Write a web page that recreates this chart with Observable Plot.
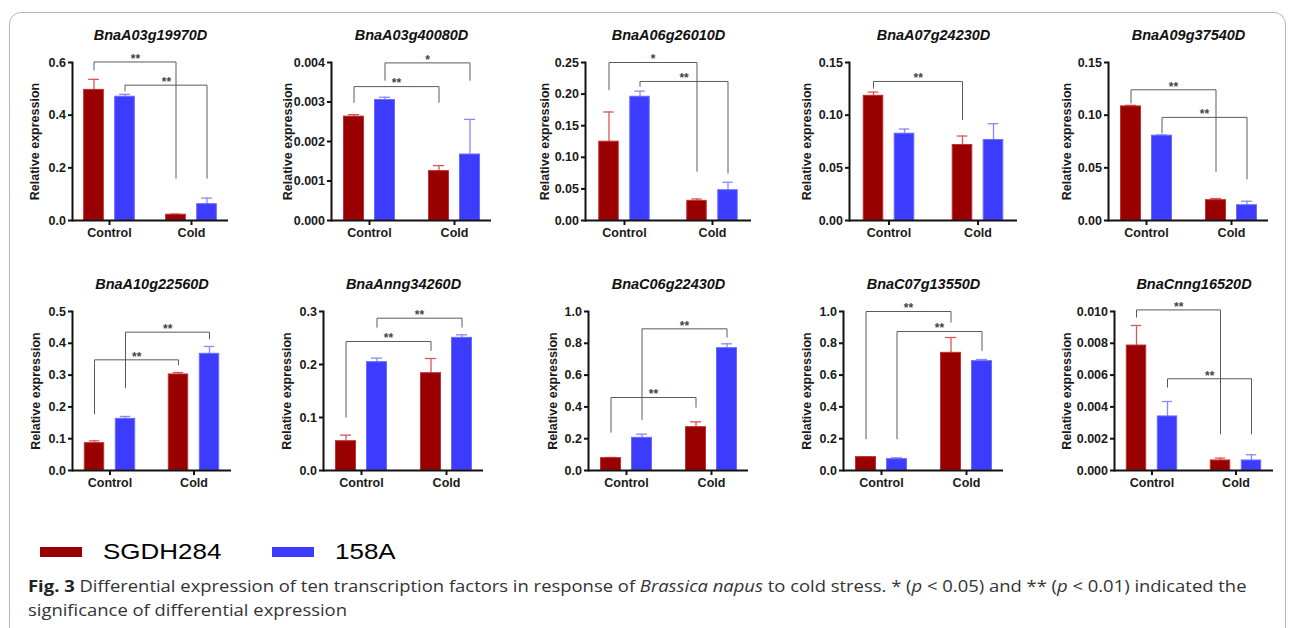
<!DOCTYPE html>
<html>
<head>
<meta charset="utf-8">
<script src="https://cdn.jsdelivr.net/npm/d3@7"></script>
<script src="https://cdn.jsdelivr.net/npm/@observablehq/plot@0.6"></script>
<style>
  html, body { margin: 0; padding: 0; background: #fff; }
  body { width: 1290px; height: 628px; overflow: hidden; position: relative; font-family: "Liberation Sans", Arial, sans-serif; }
  #border { position: absolute; left: 9px; top: 12px; width: 1277px; height: 700px; border: 1px solid #b5b5b5; border-radius: 12px; box-sizing: border-box; }
  .panel { position: absolute; }
  .panel svg { overflow: visible; }
  .legend { position: absolute; top: 540px; height: 24px; display: flex; align-items: center; }
  .swatch { width: 42px; height: 10px; }
  .legend span { font-size: 22px; color: #000; margin-left: 21px; font-family: "Liberation Sans", Arial, sans-serif; display: inline-block; transform: scaleX(1.18); transform-origin: left center; }
  #caption { position: absolute; left: 28px; top: 574px; width: 1130px; font-family: "Open Sans", sans-serif; font-size: 16.6px; line-height: 24px; color: #333; white-space: nowrap; transform: scaleX(1.11); transform-origin: left top; }
  #caption b { font-weight: 700; color: #222; }
</style>
</head>
<body>
<div id="border"></div>
<div id="panels"></div>
<div class="legend" style="left:40px"><div class="swatch" style="background:#990000"></div><span>SGDH284</span></div>
<div class="legend" style="left:272px"><div class="swatch" style="background:#3c3cff"></div><span>158A</span></div>
<div id="caption"><b>Fig. 3</b> Differential expression of ten transcription factors in response of <i>Brassica napus</i> to cold stress. * (<i>p</i> &lt; 0.05) and ** (<i>p</i> &lt; 0.01) indicated the<br>significance of differential expression</div>
<script>
// ---------- DATA ----------
const genes = ["BnaA03g19970D", "BnaA03g40080D", "BnaA06g26010D", "BnaA07g24230D", "BnaA09g37540D",
               "BnaA10g22560D", "BnaAnng34260D", "BnaC06g22430D", "BnaC07g13550D", "BnaCnng16520D"];
const groups = ["Control", "Cold"];
const cultivars = ["SGDH284", "158A"];

// mean relative expression per gene: [Control, Cold]
const sgdh284Mean = [[0.496, 0.022], [0.00263, 0.00125], [0.1247, 0.0311], [0.1184, 0.0717], [0.1083, 0.0193],
                     [0.086, 0.302], [0.0553, 0.1836], [0.0776, 0.2725], [0.0839, 0.740], [0.00786, 0.00063]];
const sgdh284Err  = [[0.040, 0.002], [0.00005, 0.00014], [0.047, 0.003], [0.0035, 0.0085], [0.001, 0.0015],
                     [0.0073, 0.006], [0.0114, 0.0277], [0.0044, 0.0335], [0.002, 0.0965], [0.00126, 0.00015]];
const a158Mean    = [[0.470, 0.062], [0.00305, 0.00167], [0.1958, 0.0479], [0.0824, 0.0764], [0.0805, 0.0145],
                     [0.1625, 0.367], [0.2044, 0.2503], [0.2055, 0.7694], [0.0713, 0.6876], [0.0034, 0.00063]];
const a158Err     = [[0.009, 0.023], [0.00007, 0.00089], [0.0089, 0.0126], [0.0044, 0.0155], [0.0007, 0.0038],
                     [0.0075, 0.023], [0.0076, 0.0057], [0.023, 0.0272], [0.0084, 0.0104], [0.00094, 0.00036]];

// y-axis tick values and decimals
const yTicks = [[0, 0.2, 0.4, 0.6], [0, 0.001, 0.002, 0.003, 0.004], [0, 0.05, 0.10, 0.15, 0.20, 0.25],
                [0, 0.05, 0.10, 0.15], [0, 0.05, 0.10, 0.15], [0, 0.1, 0.2, 0.3, 0.4, 0.5],
                [0, 0.1, 0.2, 0.3], [0, 0.2, 0.4, 0.6, 0.8, 1.0], [0, 0.2, 0.4, 0.6, 0.8, 1.0],
                [0, 0.002, 0.004, 0.006, 0.008, 0.010]];
const yDecimals = [1, 3, 2, 2, 2, 1, 1, 1, 1, 3];

// significance brackets (Control vs Cold within a cultivar)
const bracketGene   = [0, 0, 1, 1, 2, 2, 3, 4, 4, 5, 5, 6, 6, 7, 7, 8, 8, 9, 9];
const bracketSeries = ["SGDH284", "158A", "SGDH284", "158A", "SGDH284", "158A", "SGDH284", "SGDH284", "158A",
                       "SGDH284", "158A", "SGDH284", "158A", "SGDH284", "158A", "SGDH284", "158A", "SGDH284", "158A"];
const bracketStart  = [0.571, 0.492, 0.00299, 0.00355, 0.2068, 0.2121, 0.1257, 0.1115, 0.0831,
                       0.178, 0.26, 0.1006, 0.2704, 0.241, 0.321, 0.199, 0.199, 0.00964, 0.00524];
const bracketTop    = [0.602, 0.514, 0.00339, 0.00399, 0.25, 0.22, 0.132, 0.1241, 0.0979,
                       0.348, 0.435, 0.2434, 0.2874, 0.459, 0.891, 1.0, 0.874, 0.0101, 0.00577];
const bracketEnd    = [0.161, 0.161, 0.00299, 0.00355, 0.0779, 0.0753, 0.0957, 0.0467, 0.0395,
                       0.332, 0.414, 0.2264, 0.2704, 0.398, 0.8386, 0.933, 0.755, 0.0023, 0.0023];
const bracketLabel  = ["**", "**", "**", "*", "*", "**", "**", "**", "**",
                       "**", "**", "**", "**", "**", "**", "**", "**", "**", "**"];

// ---------- LAYOUT / STYLE ----------
const axisLeft = [72, 331, 585, 849, 1108, 72, 323, 588, 843, 1114];
const frameW   = [156, 160, 166, 168, 160, 159, 160, 160, 160, 159];
const labelOff = [42, 48, 45, 47, 46, 41, 41, 40, 41, 52];
const rowTop   = [62, 311];
const frameH   = [158, 159];
const fillColor  = {"SGDH284": "#990000", "158A": "#3c3cff"};
const edgeColor  = {"SGDH284": "#c03030", "158A": "#6a6aff"};
const errColor   = {"SGDH284": "#de5555", "158A": "#8888ff"};
const seriesDx   = {"SGDH284": -15.5, "158A": 15.5};

const ML = 80, MR = 14, MT = 48, MB = 36;
const pIn = 0.2, pOut = 0.041;
const barW = 20, capW = 11;

function makePanel(i) {
  const row = Math.floor(i / 5);
  const fw = frameW[i], fh = frameH[row];
  const step = fw / (2 - pIn + 2 * pOut);
  const bw = step * (1 - pIn);
  const rows = [];
  groups.forEach((g, j) => {
    rows.push({group: g, series: "SGDH284", mean: sgdh284Mean[i][j], err: sgdh284Err[i][j]});
    rows.push({group: g, series: "158A", mean: a158Mean[i][j], err: a158Err[i][j]});
  });
  const ticks = yTicks[i];
  const fmt = d3.format(`.${yDecimals[i]}f`);
  const marks = [];
  for (const s of cultivars) {
    const d = rows.filter(r => r.series === s);
    const dx = seriesDx[s];
    marks.push(Plot.ruleX(d, {x: "group", y1: "mean", y2: r => r.mean + r.err, dx, stroke: errColor[s], strokeWidth: 1.3}));
    marks.push(Plot.tickY(d, {x: "group", y: r => r.mean + r.err, dx, stroke: errColor[s], strokeWidth: 1.3,
      insetLeft: (bw - capW) / 2, insetRight: (bw - capW) / 2}));
    marks.push(Plot.barY(d, {x: "group", y: "mean", dx, fill: fillColor[s], stroke: edgeColor[s], strokeWidth: 1,
      insetLeft: (bw - barW) / 2, insetRight: (bw - barW) / 2}));
  }
  bracketGene.forEach((g, k) => {
    if (g !== i) return;
    const s = bracketSeries[k];
    const pts = [
      {x: "Control", y: bracketStart[k]}, {x: "Control", y: bracketTop[k]},
      {x: "Cold", y: bracketTop[k]}, {x: "Cold", y: bracketEnd[k]}
    ];
    marks.push(Plot.line(pts, {x: "x", y: "y", dx: seriesDx[s], stroke: "#5a5a5a", strokeWidth: 1}));
    marks.push(Plot.text([bracketLabel[k]], {x: () => "Control", y: () => bracketTop[k], text: d => d,
      dx: seriesDx[s] + step / 2, dy: -3, fontSize: 12, fontWeight: "bold", fill: "#444"}));
  });
  marks.push(Plot.ruleY([0], {stroke: "#111", strokeWidth: 2}));
  marks.push(Plot.frame({anchor: "left", stroke: "#111", strokeWidth: 2}));
  marks.push(Plot.axisY(ticks, {tickFormat: fmt, tickSize: 4, tickPadding: 2.5, stroke: "#111", strokeWidth: 2,
    fontSize: 12.5, fontWeight: "bold", fill: "#1a1a1a",
    label: "Relative expression", labelArrow: "none", labelAnchor: "center", labelOffset: labelOff[i]}));
  marks.push(Plot.axisX({tickSize: 5, tickPadding: 3, stroke: "#111", strokeWidth: 2, fontSize: 12.5,
    fontWeight: "bold", fill: "#1a1a1a", label: null}));
  marks.push(Plot.text([genes[i]], {frameAnchor: "top", dy: -33, text: d => d, fontSize: 14.5,
    fontStyle: "italic", fontWeight: "bold", fill: "#111"}));

  const svg = Plot.plot({
    width: ML + fw + MR, height: MT + fh + MB,
    marginLeft: ML, marginRight: MR, marginTop: MT, marginBottom: MB,
    style: {fontFamily: "'Liberation Sans', Arial, sans-serif", fontWeight: "bold", color: "#1a1a1a", background: "transparent"},
    x: {domain: groups, paddingInner: pIn, paddingOuter: pOut, axis: null},
    y: {domain: [0, ticks[ticks.length - 1]], axis: null},
    marks
  });
  const wrap = document.createElement("div");
  wrap.className = "panel";
  wrap.style.left = (axisLeft[i] - ML) + "px";
  wrap.style.top = (rowTop[row] - MT) + "px";
  wrap.appendChild(svg);
  document.getElementById("panels").appendChild(wrap);
}
genes.forEach((g, i) => makePanel(i));
</script>
</body>
</html>
